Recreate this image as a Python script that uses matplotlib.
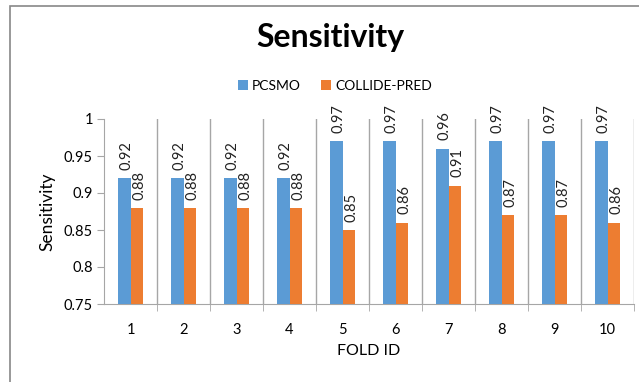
import numpy as np
import matplotlib
matplotlib.use('Agg')
import matplotlib.pyplot as plt
from matplotlib.patches import Rectangle

plt.rcParams['font.family'] = ['Lato', 'DejaVu Sans']

folds = ['1', '2', '3', '4', '5', '6', '7', '8', '9', '10']
pcsmo = [0.92, 0.92, 0.92, 0.92, 0.97, 0.97, 0.96, 0.97, 0.97, 0.97]
collide = [0.88, 0.88, 0.88, 0.88, 0.85, 0.86, 0.91, 0.87, 0.87, 0.86]

blue = '#5B9BD5'
orange = '#ED7D31'
grid = '#A6A6A6'

fig = plt.figure(figsize=(6.39, 3.82), dpi=100)
ax = fig.add_axes([104/639, 1 - 304/382, 530/639, 185/382])

# outer chart frame
fig.patches.append(Rectangle((10/639, -0.1), 1.2, 1 - 6/382 + 0.1, transform=fig.transFigure,
                             fill=False, edgecolor='#888888', lw=1.2))

x = np.arange(1, len(folds) + 1)
w = 0.235
b1 = ax.bar(x - w/2, pcsmo, w, color=blue, zorder=3)
b2 = ax.bar(x + w/2, collide, w, color=orange, zorder=3)

for bars, vals in ((b1, pcsmo), (b2, collide)):
    for r, v in zip(bars, vals):
        ax.text(r.get_x() + r.get_width()/2 + 0.05, v + 0.011, f'{v:.2f}', rotation=90,
                ha='center', va='bottom', fontsize=10.5, color='#222222', zorder=4)

ax.set_xlim(0.5, 10.5)
ax.set_ylim(0.75, 1.0)
ax.set_yticks([0.75, 0.8, 0.85, 0.9, 0.95, 1.0])
ax.set_yticklabels(['0.75', '0.8', '0.85', '0.9', '0.95', '1'])
ax.set_xticks(x)
ax.set_xticklabels(folds)
ax.set_xticks(np.arange(1.5, 11, 1), minor=True)
ax.tick_params(axis='x', which='major', length=0, pad=14, labelsize=10.5)
ax.tick_params(axis='x', which='minor', length=5, color=grid, direction='out')
ax.tick_params(axis='y', length=5, color=grid, labelsize=10.5, pad=3)
ax.grid(True, axis='x', which='minor', color=grid, lw=1, zorder=0)

for s in ('top', 'right'):
    ax.spines[s].set_visible(False)
for s in ('left', 'bottom'):
    ax.spines[s].set_color(grid)

ax.set_ylabel('Sensitivity', fontsize=12.5, labelpad=6)
ax.set_xlabel('FOLD ID', fontsize=11.5, labelpad=5)

fig.text(330/639, 1 - 38/382, 'Sensitivity', ha='center', va='center',
         fontsize=23, fontweight='bold')

fig.legend([b1, b2], ['PCSMO', 'COLLIDE-PRED'], loc='center', bbox_to_anchor=(335/639, 1 - 86/382),
           ncol=2, frameon=False, fontsize=10, handlelength=0.7, handleheight=0.7,
           handletextpad=0.3, columnspacing=1.5)

fig.savefig('out.png', dpi=100)
